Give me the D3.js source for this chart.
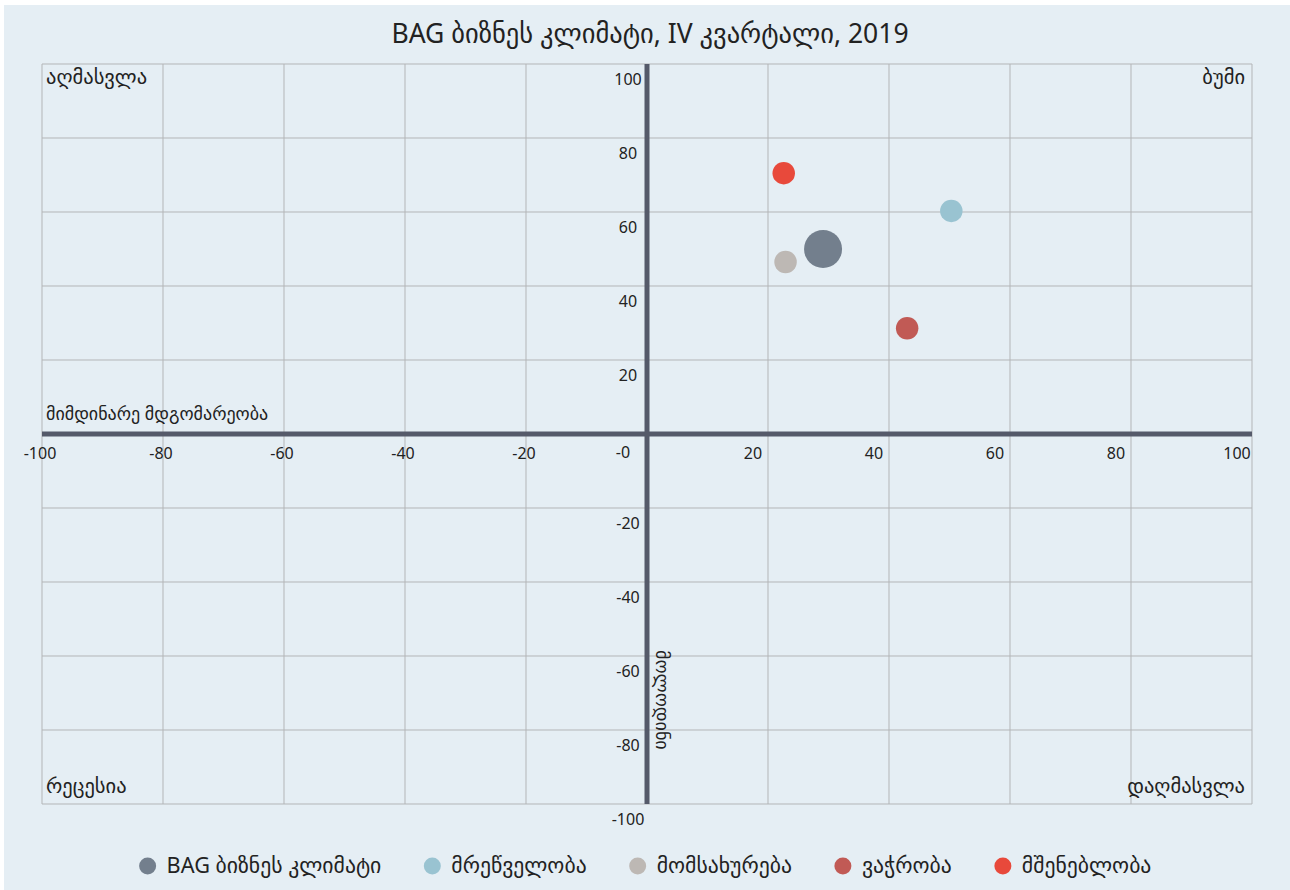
<!DOCTYPE html>
<html>
<head>
<meta charset="utf-8">
<script src="https://cdn.jsdelivr.net/npm/d3@7"></script>
<style>
  body { margin: 0; background: #fff; }
  svg text { font-family: "Noto Sans", "DejaVu Sans", sans-serif; fill: #222; }
</style>
</head>
<body>
<div id="chart"></div>
<script>
// series: name, current situation (x), expectations (y), bubble weight
var names = ["BAG ბიზნეს კლიმატი", "მრეწველობა", "მომსახურება", "ვაჭრობა", "მშენებლობა"];
var current = [29.1, 50.3, 22.9, 43.0, 22.6];
var expected = [50.0, 60.3, 46.5, 28.6, 70.5];
var weight = [100, 35, 35, 35, 35];
var colors = ["#737f8d", "#99c3d1", "#bdb8b4", "#c15a55", "#e8493b"];

var xTicks = [-100, -80, -60, -40, -20, 20, 40, 60, 80, 100];
var xTickLabels = ["-100", "-80", "-60", "-40", "-20", "20", "40", "60", "80", "100"];
var yTicks = [100, 80, 60, 40, 20, 0, -20, -40, -60, -80, -100];
var yTickLabels = ["100", "80", "60", "40", "20", "-0", "-20", "-40", "-60", "-80", "-100"];

var quadrants = ["აღმასვლა", "ბუმი", "რეცესია", "დაღმასვლა"];
var title = "BAG ბიზნეს კლიმატი, IV კვარტალი, 2019";
var xTitle = "მიმდინარე მდგომარეობა";
var yTitle = "მოლოდინი";

function init() {
    var w = 1290, h = 890;

    var svg = d3.select("#chart").append("svg")
        .attr("width", w)
        .attr("height", h);

    // background panel
    svg.append("rect")
        .attr("x", 4).attr("y", 5)
        .attr("width", w - 4).attr("height", h - 5)
        .attr("fill", "#e5eef4");

    var xScale = d3.scaleLinear().domain([-100, 100]).range([42, 1252]);
    var yScale = d3.scaleLinear().domain([-100, 100]).range([804, 64]);
    var rScale = d3.scaleSqrt().domain([0, 100]).range([0, 19]);

    var gridTicks = d3.range(-100, 101, 20);

    // grid
    svg.append("g").selectAll("line")
        .data(gridTicks).join("line")
        .attr("x1", function(d) { return xScale(d); })
        .attr("x2", function(d) { return xScale(d); })
        .attr("y1", yScale(100)).attr("y2", yScale(-100))
        .attr("stroke", "#b3b5b7").attr("stroke-width", 1);

    svg.append("g").selectAll("line")
        .data(gridTicks).join("line")
        .attr("y1", function(d) { return yScale(d); })
        .attr("y2", function(d) { return yScale(d); })
        .attr("x1", xScale(-100)).attr("x2", xScale(100))
        .attr("stroke", "#b3b5b7").attr("stroke-width", 1);

    // thick zero axes
    svg.append("line")
        .attr("x1", xScale(-100)).attr("x2", xScale(100))
        .attr("y1", yScale(0)).attr("y2", yScale(0))
        .attr("stroke", "#555a6a").attr("stroke-width", 5);

    svg.append("line")
        .attr("x1", xScale(0)).attr("x2", xScale(0))
        .attr("y1", yScale(100)).attr("y2", yScale(-100))
        .attr("stroke", "#555a6a").attr("stroke-width", 5);

    // x tick labels (under the horizontal axis)
    svg.append("g").selectAll("text")
        .data(xTicks).join("text")
        .attr("x", function(d) { return xScale(d) + (d < 0 ? -2 : -15); })
        .attr("y", yScale(0) + 25)
        .attr("text-anchor", "middle")
        .attr("font-size", 16)
        .text(function(d, i) { return xTickLabels[i]; });

    // y tick labels (left of the vertical axis)
    svg.append("g").selectAll("text")
        .data(yTicks).join("text")
        .attr("x", xScale(0) - 19)
        .attr("y", function(d) { return yScale(d) + (d === 0 ? 24 : 21); })
        .attr("dx", function(d) { return d === 0 ? -5 : 0; })
        .attr("text-anchor", "middle")
        .attr("font-size", 16)
        .text(function(d, i) { return yTickLabels[i]; });

    // quadrant captions
    var qpos = [
        { x: 46, y: 84, a: "start" },
        { x: 1245, y: 84, a: "end" },
        { x: 46, y: 793, a: "start" },
        { x: 1245, y: 793, a: "end" }
    ];
    svg.append("g").selectAll("text")
        .data(quadrants).join("text")
        .attr("x", function(d, i) { return qpos[i].x; })
        .attr("y", function(d, i) { return qpos[i].y; })
        .attr("text-anchor", function(d, i) { return qpos[i].a; })
        .attr("font-size", 20.5)
        .text(function(d) { return d; });

    // axis titles
    svg.append("text")
        .attr("x", 46).attr("y", 420)
        .attr("font-size", 18)
        .text(xTitle);

    svg.append("text")
        .attr("transform", "translate(656,650) rotate(90)")
        .attr("font-size", 18)
        .text(yTitle);

    // title
    svg.append("text")
        .attr("x", 650).attr("y", 43)
        .attr("text-anchor", "middle")
        .attr("font-size", 26.5)
        .text(title);

    // bubbles
    svg.append("g").selectAll("circle")
        .data(names).join("circle")
        .attr("cx", function(d, i) { return xScale(current[i]); })
        .attr("cy", function(d, i) { return yScale(expected[i]); })
        .attr("r", function(d, i) { return rScale(weight[i]); })
        .attr("fill", function(d, i) { return colors[i]; });

    // legend
    var legend = svg.append("g");
    var items = legend.selectAll("g")
        .data(names).join("g");
    items.append("circle")
        .attr("r", 8.5)
        .attr("cy", -7)
        .attr("fill", function(d, i) { return colors[i]; });
    items.append("text")
        .attr("x", 19)
        .attr("font-size", 21.7)
        .attr("fill", "#333")
        .text(function(d) { return d; });

    var gap = 51;
    var xPos = 0;
    var offsets = [];
    items.each(function() {
        offsets.push(xPos);
        var tw = d3.select(this).select("text").node().getComputedTextLength();
        xPos += 19 + tw + gap;
    });
    var total = xPos - gap;
    var start = 645.5 - total / 2 + 4;
    items.attr("transform", function(d, i) {
        return "translate(" + (start + offsets[i]) + ",873)";
    });
}

window.onload = init;
</script>
</body>
</html>
